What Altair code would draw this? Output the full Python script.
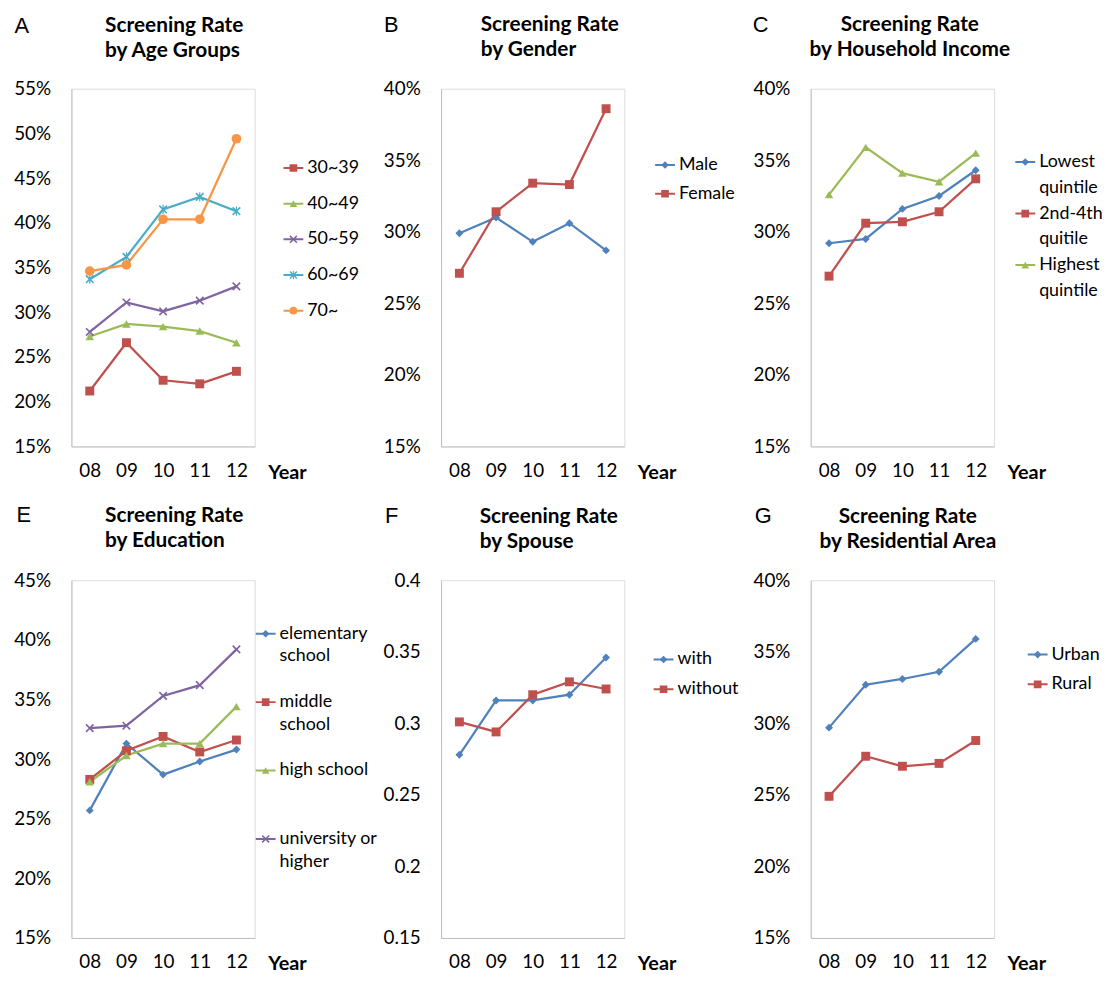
import altair as alt
import pandas as pd

# ---------------- data ----------------
YEARS = ["08", "09", "10", "11", "12"]

# A: by age groups
A_NAMES = ["30~39", "40~49", "50~59", "60~69", "70~"]
A_30_39 = [0.212, 0.266, 0.224, 0.220, 0.234]
A_40_49 = [0.273, 0.287, 0.284, 0.279, 0.266]
A_50_59 = [0.278, 0.311, 0.301, 0.313, 0.329]
A_60_69 = [0.337, 0.362, 0.415, 0.429, 0.413]
A_70 = [0.346, 0.353, 0.404, 0.404, 0.494]

# B: by gender
B_NAMES = ["Male", "Female"]
B_MALE = [0.299, 0.310, 0.293, 0.306, 0.287]
B_FEMALE = [0.271, 0.314, 0.334, 0.333, 0.386]

# C: by household income
C_NAMES = ["Lowest quintile", "2nd-4th quitile", "Highest quintile"]
C_LOWEST = [0.292, 0.295, 0.316, 0.325, 0.343]
C_MIDDLE = [0.269, 0.306, 0.307, 0.314, 0.337]
C_HIGHEST = [0.326, 0.359, 0.341, 0.335, 0.355]

# E: by education
E_NAMES = ["elementary school", "middle school", "high school", "university or higher"]
E_ELEM = [0.257, 0.313, 0.287, 0.298, 0.308]
E_MIDDLE = [0.283, 0.307, 0.319, 0.306, 0.316]
E_HIGH = [0.281, 0.303, 0.313, 0.313, 0.344]
E_UNIV = [0.326, 0.328, 0.353, 0.362, 0.392]

# F: by spouse
F_NAMES = ["with", "without"]
F_WITH = [0.278, 0.316, 0.316, 0.320, 0.346]
F_WITHOUT = [0.301, 0.294, 0.320, 0.329, 0.324]

# G: by residential area
G_NAMES = ["Urban", "Rural"]
G_URBAN = [0.297, 0.327, 0.331, 0.336, 0.359]
G_RURAL = [0.249, 0.277, 0.270, 0.272, 0.288]

# ---------------- style ----------------
FONT = "Lato"
AXIS_GRAY = "#BFBFBF"
BLUE, RED, GREEN = "#4F81BD", "#C0504D", "#9BBB59"
PURPLE, AQUA, ORANGE = "#8064A2", "#4BACC6", "#F79646"
T = "transparent"
X_PATH = ("M-0.76,-1.04L1.04,0.76L0.76,1.04L-1.04,-0.76Z "
          "M0.76,-1.04L1.04,-0.76L-0.76,1.04L-1.04,0.76Z")
STAR_PATH = X_PATH + " M0.14,-1.1L0.14,1.1L-0.14,1.1L-0.14,-1.1Z"
MARK_SIZE = {"diamond": 64, "square": 81, "triangle-up": 75,
             X_PATH: 70, STAR_PATH: 72, "circle": 95}

W, H = 185, 361
COL_X = [72, 445, 818]
ROW_Y = [88, 584]
COL_GAP = COL_X[1] - COL_X[0] - W
ROW_GAP = ROW_Y[1] - ROW_Y[0] - H


def panel(names, values, rows, ydom, yfmt, letter, letter_xy, title_lines,
          anchor, title_x, leg_xy, pitch, col, row):
    px, py = COL_X[col], ROW_Y[row]
    shape_of = {r[0]: r[3] for r in rows}
    recs = []
    for nm, vals in zip(names, values):
        for yr, v in zip(YEARS, vals):
            recs.append({"year": yr, "s": nm, "p": nm + "#p", "v": v,
                         "sz": MARK_SIZE[shape_of[nm]]})
    df = pd.DataFrame(recs)
    keys = [r[0] for r in rows]
    pkeys = [k + "#p" for k in keys]
    colors = [r[2] for r in rows]
    shapes = [r[3] for r in rows]
    lab_expr = "".join(f"datum.value === '{r[0]}' ? '{r[1]}' : " for r in rows) + "''"

    lo, hi = ydom
    nt = int(round((hi - lo) / 0.05))
    yvals = [round(lo + 0.05 * i, 2) for i in range(nt + 1)]

    x = alt.X("year:O", sort=YEARS, scale=alt.Scale(type="point", padding=0.5),
              axis=alt.Axis(title="Year", labelAngle=0, labelFont=FONT, labelFontSize=19,
                            labelColor="#000", labelPadding=15, ticks=False, tickSize=0,
                            domainColor=AXIS_GRAY, domainWidth=1, grid=False,
                            titleFont=FONT, titleFontSize=20, titleFontWeight="bold",
                            titleColor="#000", titleX=W + 13, titleY=32,
                            titleAlign="left", titleBaseline="alphabetic"))
    y = alt.Y("v:Q", scale=alt.Scale(domain=[lo, hi], nice=False, zero=False),
              axis=alt.Axis(values=yvals, format=yfmt, labelFont=FONT, labelFontSize=19,
                            labelColor="#000", labelPadding=21, labelFlush=False,
                            labelOverlap=False, ticks=False, tickSize=0,
                            domainColor=AXIS_GRAY, domainWidth=1, grid=False,
                            title=letter, titleAngle=0,
                            titleX=letter_xy[0] - px, titleY=letter_xy[1] - py,
                            titleAlign="left", titleBaseline="alphabetic",
                            titleFont="Liberation Sans", titleFontSize=22,
                            titleFontWeight="normal", titleColor="#000"))

    ly = leg_xy[1] - pitch / 2 - py
    common = dict(orient="none", title=None, padding=0, rowPadding=0, clipHeight=pitch,
                  labelFont=FONT, labelFontSize=18, labelColor="#000", labelLimit=300)
    stroke_leg = alt.Legend(legendX=leg_xy[0] - 11 - px, legendY=ly, symbolType="stroke",
                            symbolSize=400, symbolStrokeWidth=2, labelOffset=3,
                            labelExpr=lab_expr, **common)
    pt_leg = alt.Legend(legendX=leg_xy[0] - 9 - px, legendY=ly, symbolSize=60,
                        symbolStrokeWidth=0, labelExpr="''", **common)

    base = alt.Chart(df)
    line = base.mark_line(strokeWidth=2.25).encode(
        x=x, y=y,
        stroke=alt.Stroke("s:N", scale=alt.Scale(domain=keys, range=colors), legend=stroke_leg))
    pts = base.mark_point(filled=True, opacity=1).encode(
        x=x, y=y,
        fill=alt.Fill("p:N", scale=alt.Scale(domain=pkeys, range=colors), legend=pt_leg),
        shape=alt.Shape("p:N", scale=alt.Scale(domain=pkeys, range=shapes), legend=pt_leg),
        size=alt.Size("sz:Q", scale=None))

    if anchor == "start":
        dx = title_x - px
    else:
        dx = title_x - (px + W / 2)
    title = alt.TitleParams(text=title_lines, anchor=anchor, frame="group", dx=dx, offset=-47,
                            font=FONT, fontSize=21, fontWeight="bold", lineHeight=25,
                            color="#000")
    return alt.layer(line, pts).properties(width=W, height=H, title=title)


pA = panel(A_NAMES, [A_30_39, A_40_49, A_50_59, A_60_69, A_70],
           [("30~39", "30~39", RED, "square"),
            ("40~49", "40~49", GREEN, "triangle-up"),
            ("50~59", "50~59", PURPLE, X_PATH),
            ("60~69", "60~69", AQUA, STAR_PATH),
            ("70~", "70~", ORANGE, "circle")],
           (0.15, 0.55), ".0%", "A", (14, 31), ["Screening Rate", "by Age Groups"],
           "start", 106, (296, 168), 35.25, 0, 0)

pB = panel(B_NAMES, [B_MALE, B_FEMALE],
           [("Male", "Male", BLUE, "diamond"),
            ("Female", "Female", RED, "square")],
           (0.15, 0.40), ".0%", "B", (387, 30), ["Screening Rate", "by Gender"],
           "start", 485, (671, 165), 29, 1, 0)

pC = panel(C_NAMES, [C_LOWEST, C_MIDDLE, C_HIGHEST],
           [("Lowest quintile", "Lowest", BLUE, "diamond"),
            ("_c1", "quintile", T, "circle"),
            ("2nd-4th quitile", "2nd-4th", RED, "square"),
            ("_c2", "quitile", T, "circle"),
            ("Highest quintile", "Highest", GREEN, "triangle-up"),
            ("_c3", "quintile", T, "circle")],
           (0.15, 0.40), ".0%", "C", (759, 30), ["Screening Rate", "by Household Income"],
           "middle", 918, (1034.5, 162), 25.6, 2, 0)

pE = panel(E_NAMES, [E_ELEM, E_MIDDLE, E_HIGH, E_UNIV],
           [("elementary school", "elementary", BLUE, "diamond"),
            ("_c1", "school", T, "circle"),
            ("_b1", "", T, "circle"),
            ("middle school", "middle", RED, "square"),
            ("_c2", "school", T, "circle"),
            ("_b2", "", T, "circle"),
            ("high school", "high school", GREEN, "triangle-up"),
            ("_b3", "", T, "circle"),
            ("_b4", "", T, "circle"),
            ("university or higher", "university or", PURPLE, X_PATH),
            ("_c3", "higher", T, "circle")],
           (0.15, 0.45), ".0%", "E", (16, 525), ["Screening Rate", "by Education"],
           "start", 106, (268, 638), 22.4, 0, 1)

pF = panel(F_NAMES, [F_WITH, F_WITHOUT],
           [("with", "with", BLUE, "diamond"),
            ("without", "without", RED, "square")],
           (0.15, 0.40), "~g", "F", (388, 526), ["Screening Rate", "by Spouse"],
           "start", 484, (669.5, 664), 29.5, 1, 1)

pG = panel(G_NAMES, [G_URBAN, G_RURAL],
           [("Urban", "Urban", BLUE, "diamond"),
            ("Rural", "Rural", RED, "square")],
           (0.15, 0.40), ".0%", "G", (761, 526), ["Screening Rate", "by Residential Area"],
           "middle", 916, (1047, 659), 30, 2, 1)

chart = alt.concat(pA, pB, pC, pE, pF, pG, columns=3, bounds="flush",
                   spacing={"row": ROW_GAP, "column": COL_GAP},
                   padding={"left": 5, "top": 0, "right": 5, "bottom": 5}).resolve_scale(
    x="independent", y="independent", stroke="independent", fill="independent",
    shape="independent").resolve_legend(
    stroke="independent", fill="independent", shape="independent").configure_view(
    stroke=None).configure(background="white")

chart.save("out.html", embed_options={"renderer": "svg", "actions": False})
